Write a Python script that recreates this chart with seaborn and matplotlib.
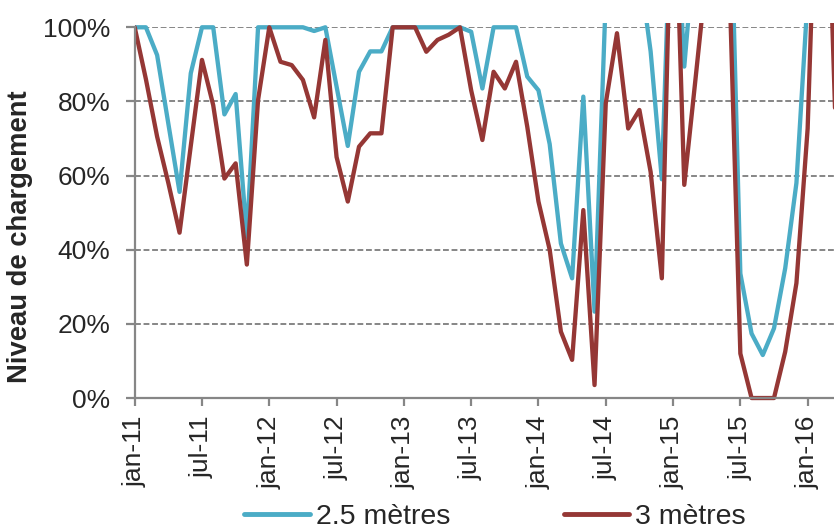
import matplotlib
matplotlib.use("Agg")
import matplotlib.pyplot as plt
import matplotlib.patches as mpatches
from matplotlib.ticker import PercentFormatter
import numpy as np
import pandas as pd
import seaborn as sns

# ─── Data (niveau de chargement, %, one point per month from jan-11) ─────────
mois = list(range(64))

niveau_2_5m = [
    100, 100, 92.5, 74, 55.6, 87.6, 100, 100, 76.5, 82, 43.5, 100,
    100, 100, 100, 100, 99, 100, 84, 68, 88, 93.5, 93.5, 100,
    100, 100, 100, 100, 100, 100, 98.8, 83.5, 100, 100, 100, 86.7,
    83, 68.5, 41.7, 32.3, 81.3, 23.3, 108, 130, 125, 116, 93.5, 59,
    150, 89.4, 125, 140, 140, 150, 33.6, 17.4, 11.6, 18.8, 35, 58,
    108, 140, 140, 140,
]

niveau_3m = [
    100, 86, 70.5, 58, 44.6, 68, 91.2, 79, 59.2, 63.3, 36, 80.4,
    100, 90.7, 89.8, 85.8, 75.7, 96.6, 65, 53, 67.8, 71.4, 71.4, 100,
    100, 100, 93.4, 96.6, 98, 100, 83, 69.6, 88, 83.5, 90.7, 73.2,
    53, 40, 17.9, 10.3, 50.7, 3.5, 79.5, 98.4, 72.7, 77.7, 61, 32.3,
    155, 57.5, 86, 115, 130, 115, 12, 0, 0, 0, 12.5, 31,
    72.7, 165, 120, 25,
]

series = ["2.5 mètres", "3 mètres"]
tick_pos = list(range(0, 61, 6))
tick_labels = ["jan-11", "jul-11", "jan-12", "jul-12", "jan-13", "jul-13",
               "jan-14", "jul-14", "jan-15", "jul-15", "jan-16"]

COLORS = {"2.5 mètres": "#4BACC6", "3 mètres": "#953735"}
GREY = "#868686"

df = pd.concat([
    pd.DataFrame({"mois": mois, "niveau": niveau_2_5m, "serie": series[0]}),
    pd.DataFrame({"mois": mois, "niveau": niveau_3m, "serie": series[1]}),
])

sns.set_style("white")
plt.rcParams["font.family"] = ["Liberation Sans", "DejaVu Sans"]

fig = plt.figure(figsize=(8.34, 5.30), dpi=100)
ax = fig.add_axes([0.1615, 0.249, 0.8385, 0.6995])

sns.lineplot(data=df, x="mois", y="niveau", hue="serie", palette=COLORS,
             estimator=None, linewidth=3.1, ax=ax)

# clip a bit beyond the plot area so lines sitting at 100% / 0% keep full width
clip = mpatches.Rectangle((0, -0.012), 1, 1.024, transform=ax.transAxes,
                          facecolor="none", edgecolor="none")
for line in ax.lines:
    line.set_clip_path(clip)

ax.set_xlim(0, 62.35)
ax.set_ylim(0, 100)
ax.set_yticks([0, 20, 40, 60, 80, 100])
ax.yaxis.set_major_formatter(PercentFormatter(xmax=100, decimals=0))
ax.set_xticks(tick_pos)
ax.set_xticklabels(tick_labels, rotation=90)

for y in [20, 40, 60, 80, 100]:
    ax.axhline(y, color=GREY, lw=1.4, ls=(0, (3, 1.4)), zorder=0)

for side in ["top", "right"]:
    ax.spines[side].set_visible(False)
for side in ["left", "bottom"]:
    ax.spines[side].set_color(GREY)
    ax.spines[side].set_linewidth(1.6)

ax.tick_params(axis="x", direction="out", length=5.5, width=1.6, color=GREY,
               pad=7, labelsize=19)
ax.tick_params(axis="y", direction="out", length=6.5, width=1.6, color=GREY,
               pad=11, labelsize=19)
ax.tick_params(bottom=True, left=True)

ax.set_xlabel("")
ax.set_ylabel("Niveau de chargement", fontsize=19.7, fontweight="bold")
ax.yaxis.set_label_coords(-0.1455, 0.435)

sns.move_legend(ax, "center", bbox_to_anchor=(0.5935, 0.0245),
                bbox_transform=fig.transFigure, ncol=2, frameon=False,
                title=None, fontsize=20.5, handlelength=2.3,
                handletextpad=0.2, columnspacing=4.0, borderaxespad=0)
for h in ax.get_legend().get_lines():
    h.set_linewidth(3.5)

fig.savefig("out.png", dpi=100)
